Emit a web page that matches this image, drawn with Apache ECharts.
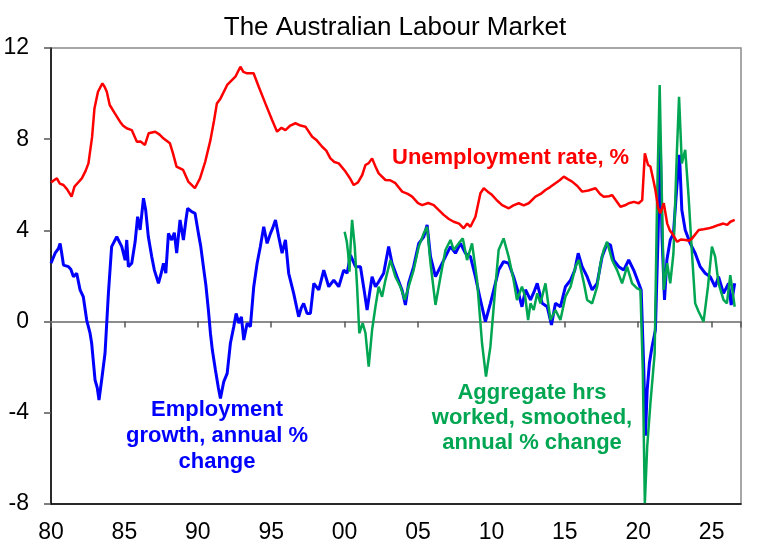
<!DOCTYPE html>
<html>
<head>
<meta charset="utf-8">
<title>The Australian Labour Market</title>
<script src="https://cdn.jsdelivr.net/npm/echarts@6/dist/echarts.min.js"></script>
<style>
  html, body { margin: 0; padding: 0; background: #fff; }
  #chart { width: 766px; height: 555px; }
</style>
</head>
<body>
<div id="chart"></div>
<script>
// values (decimal years)
const unempYears = [1980.0, 1980.2, 1980.4, 1980.6, 1980.85, 1981.1, 1981.4, 1981.6, 1981.85, 1982.1, 1982.35, 1982.55, 1982.8, 1982.96, 1983.2, 1983.5, 1983.65, 1983.8, 1984.0, 1984.35, 1984.7, 1984.9, 1985.15, 1985.5, 1985.85, 1986.1, 1986.4, 1986.65, 1987.1, 1987.4, 1987.65, 1988.1, 1988.3, 1988.55, 1989.0, 1989.35, 1989.8, 1990.15, 1990.5, 1990.86, 1991.1, 1991.3, 1991.55, 1992.0, 1992.56, 1992.9, 1993.1, 1993.36, 1993.8, 1994.15, 1994.6, 1995.06, 1995.4, 1995.7, 1995.97, 1996.3, 1996.65, 1997.0, 1997.33, 1997.79, 1998.1, 1998.47, 1998.75, 1999.03, 1999.3, 1999.6, 2000.06, 2000.35, 2000.62, 2000.9, 2001.2, 2001.42, 2001.64, 2001.87, 2002.1, 2002.32, 2002.78, 2003.1, 2003.46, 2003.92, 2004.3, 2004.6, 2005.0, 2005.28, 2005.7, 2006.07, 2006.4, 2006.75, 2007.1, 2007.43, 2007.8, 2008.11, 2008.35, 2008.57, 2008.91, 2009.25, 2009.48, 2009.75, 2010.05, 2010.4, 2010.73, 2011.18, 2011.5, 2011.86, 2012.2, 2012.54, 2013.0, 2013.35, 2013.68, 2014.0, 2014.36, 2014.65, 2014.93, 2015.2, 2015.5, 2015.85, 2016.18, 2016.6, 2017.09, 2017.4, 2017.65, 2018.0, 2018.22, 2018.5, 2018.79, 2019.1, 2019.35, 2019.7, 2020.03, 2020.27, 2020.45, 2020.67, 2020.83, 2021.0, 2021.17, 2021.35, 2021.5, 2021.74, 2021.97, 2022.15, 2022.31, 2022.65, 2022.9, 2023.22, 2023.45, 2023.67, 2024.12, 2024.45, 2024.8, 2025.1, 2025.48, 2025.8, 2026.06, 2026.28, 2026.57];
const unempRate = [6.1, 6.2, 6.28, 6.05, 5.99, 5.8, 5.48, 5.92, 6.1, 6.28, 6.6, 6.94, 8.1, 9.35, 10.08, 10.45, 10.3, 10.08, 9.5, 9.13, 8.77, 8.6, 8.48, 8.4, 7.89, 7.9, 7.75, 8.26, 8.33, 8.2, 8.04, 7.82, 7.4, 6.8, 6.65, 6.14, 5.85, 6.28, 7.0, 7.96, 8.8, 9.57, 9.79, 10.38, 10.74, 11.18, 10.95, 10.89, 10.89, 10.3, 9.57, 8.84, 8.33, 8.5, 8.4, 8.6, 8.7, 8.6, 8.55, 8.11, 7.95, 7.67, 7.5, 7.16, 7.0, 6.94, 6.58, 6.3, 5.99, 6.1, 6.43, 6.87, 6.95, 7.16, 6.8, 6.5, 6.21, 6.2, 6.07, 5.7, 5.6, 5.48, 5.2, 5.11, 5.2, 5.11, 4.9, 4.68, 4.5, 4.38, 4.3, 4.09, 4.3, 4.16, 4.6, 5.63, 5.85, 5.7, 5.55, 5.3, 5.11, 4.97, 5.1, 5.19, 5.1, 5.19, 5.48, 5.6, 5.77, 5.9, 6.07, 6.2, 6.36, 6.25, 6.14, 5.95, 5.7, 5.75, 5.85, 5.6, 5.48, 5.5, 5.55, 5.3, 5.04, 5.1, 5.19, 5.25, 5.19, 5.33, 7.38, 6.87, 6.8, 6.3, 5.77, 5.0, 4.75, 5.19, 4.31, 4.0, 3.87, 3.5, 3.6, 3.58, 3.55, 3.65, 4.02, 4.05, 4.09, 4.15, 4.24, 4.3, 4.24, 4.38, 4.46];

const empYears = [1980.0, 1980.28, 1980.5, 1980.62, 1980.73, 1980.85, 1981.19, 1981.35, 1981.53, 1981.75, 1981.98, 1982.2, 1982.43, 1982.66, 1982.77, 1983.0, 1983.15, 1983.27, 1983.45, 1983.68, 1983.91, 1984.13, 1984.48, 1984.82, 1985.05, 1985.16, 1985.27, 1985.5, 1985.73, 1985.9, 1986.07, 1986.3, 1986.45, 1986.63, 1986.86, 1987.04, 1987.32, 1987.5, 1987.66, 1987.82, 1988.0, 1988.22, 1988.4, 1988.56, 1988.79, 1989.02, 1989.2, 1989.31, 1989.58, 1989.81, 1990.04, 1990.2, 1990.38, 1990.55, 1990.72, 1990.86, 1990.99, 1991.2, 1991.4, 1991.54, 1991.77, 1992.0, 1992.22, 1992.45, 1992.61, 1992.79, 1992.97, 1993.13, 1993.36, 1993.58, 1993.81, 1994.04, 1994.26, 1994.49, 1994.72, 1994.95, 1995.1, 1995.29, 1995.51, 1995.74, 1995.97, 1996.19, 1996.53, 1996.87, 1997.05, 1997.21, 1997.44, 1997.67, 1997.9, 1998.24, 1998.58, 1998.92, 1999.26, 1999.6, 1999.94, 2000.17, 2000.4, 2000.74, 2001.08, 2001.3, 2001.53, 2001.64, 2001.87, 2002.1, 2002.32, 2002.66, 2003.0, 2003.23, 2003.57, 2003.91, 2004.14, 2004.36, 2004.7, 2005.05, 2005.39, 2005.62, 2005.85, 2006.19, 2006.53, 2006.87, 2007.21, 2007.55, 2007.89, 2008.23, 2008.57, 2008.91, 2009.25, 2009.59, 2009.93, 2010.16, 2010.49, 2010.83, 2011.17, 2011.51, 2011.85, 2012.08, 2012.32, 2012.66, 2012.9, 2013.12, 2013.46, 2013.8, 2014.09, 2014.36, 2014.7, 2015.04, 2015.39, 2015.68, 2015.91, 2016.18, 2016.52, 2016.86, 2017.2, 2017.54, 2017.88, 2018.11, 2018.33, 2018.67, 2019.01, 2019.35, 2019.69, 2020.03, 2020.2, 2020.38, 2020.49, 2020.61, 2020.76, 2020.94, 2021.17, 2021.35, 2021.5, 2021.62, 2021.79, 2021.95, 2022.18, 2022.4, 2022.63, 2022.81, 2022.97, 2023.2, 2023.54, 2023.88, 2024.22, 2024.56, 2024.9, 2025.24, 2025.47, 2025.81, 2026.15, 2026.33, 2026.57];
const empGrowth = [2.56, 3.0, 3.2, 3.43, 3.0, 2.48, 2.41, 2.3, 1.97, 2.12, 1.39, 1.09, 0.07, -0.51, -0.95, -2.56, -2.9, -3.44, -2.56, -1.39, 1.24, 3.29, 3.72, 3.29, 2.7, 3.58, 2.41, 2.56, 3.5, 4.6, 4.02, 5.41, 4.89, 3.72, 2.85, 2.26, 1.68, 2.1, 2.56, 2.12, 3.87, 3.58, 3.9, 3.0, 4.46, 3.58, 4.5, 4.97, 4.82, 4.75, 3.87, 3.3, 2.41, 1.6, 0.51, -0.51, -1.25, -2.12, -2.9, -3.37, -2.63, -2.27, -0.95, -0.22, 0.36, -0.07, 0.21, -0.81, -0.07, -0.22, 1.53, 2.56, 3.29, 4.16, 3.43, 3.87, 4.1, 4.46, 3.72, 3.0, 3.58, 2.12, 1.24, 0.21, 0.6, 0.8, 0.36, 0.36, 1.68, 1.39, 2.26, 1.53, 1.82, 1.53, 2.26, 2.12, 2.92, 2.41, 2.41, 1.5, 0.51, 0.44, 1.97, 1.53, 1.75, 2.12, 3.29, 2.56, 1.97, 1.39, 0.73, 1.68, 2.41, 3.43, 3.72, 4.24, 2.85, 1.97, 2.41, 2.85, 3.29, 3.0, 3.43, 3.0, 2.85, 1.97, 0.95, 0.0, 0.8, 1.39, 2.26, 2.63, 2.56, 1.97, 1.24, 0.65, 1.4, 0.95, 1.3, 1.68, 0.8, 0.65, -0.15, 0.8, 0.65, 1.53, 1.82, 2.26, 3.0, 2.41, 1.97, 1.39, 1.68, 2.85, 3.43, 3.36, 2.7, 2.41, 2.26, 2.7, 2.26, 1.68, 1.39, -2.12, -5.0, -3.0, -1.83, -1.1, -0.37, 3.72, 8.0, 3.72, 0.95, 2.7, 3.58, 3.87, 5.92, 7.31, 4.89, 4.02, 3.43, 3.0, 2.41, 2.12, 1.97, 1.53, 1.97, 1.24, 1.68, 0.73, 1.68];

const hrsYears = [2000.0, 2000.15, 2000.24, 2000.33, 2000.42, 2000.51, 2000.69, 2000.85, 2001.0, 2001.23, 2001.42, 2001.64, 2001.87, 2002.1, 2002.32, 2002.55, 2002.78, 2003.12, 2003.46, 2003.8, 2004.1, 2004.36, 2004.7, 2005.05, 2005.39, 2005.62, 2005.85, 2006.19, 2006.53, 2006.87, 2007.21, 2007.43, 2007.77, 2008.05, 2008.34, 2008.68, 2009.02, 2009.36, 2009.63, 2009.93, 2010.27, 2010.49, 2010.83, 2011.17, 2011.51, 2011.74, 2012.08, 2012.3, 2012.5, 2012.66, 2012.88, 2013.12, 2013.34, 2013.68, 2014.02, 2014.36, 2014.7, 2015.04, 2015.39, 2015.73, 2015.95, 2016.3, 2016.52, 2016.86, 2017.2, 2017.43, 2017.65, 2017.88, 2018.22, 2018.56, 2018.9, 2019.24, 2019.58, 2019.92, 2020.15, 2020.31, 2020.45, 2020.61, 2020.83, 2021.12, 2021.28, 2021.46, 2021.62, 2021.74, 2021.97, 2022.18, 2022.4, 2022.63, 2022.78, 2022.97, 2023.2, 2023.43, 2023.66, 2023.88, 2024.11, 2024.45, 2024.75, 2025.02, 2025.24, 2025.47, 2025.81, 2026.04, 2026.27, 2026.57];
const hrsGrowth = [3.94, 3.5, 3.0, 2.19, 3.5, 4.46, 3.29, 1.53, -0.51, -0.07, -0.5, -1.98, -0.37, 0.65, 1.53, 1.09, 1.82, 2.7, 1.97, 1.53, 0.95, 1.53, 2.26, 3.29, 3.87, 4.16, 2.56, 0.73, 1.97, 3.14, 3.58, 3.14, 3.43, 3.65, 2.7, 3.43, 1.82, -0.95, -2.41, -1.1, 1.53, 3.14, 3.65, 2.85, 1.82, 0.95, 1.53, 1.09, 0.07, 0.8, 0.51, 1.24, 0.8, 1.68, 0.07, 0.51, 0.07, 1.09, 1.53, 2.41, 2.7, 1.68, 0.95, 0.8, 1.53, 2.56, 3.14, 3.5, 2.7, 2.26, 1.68, 2.41, 1.68, 1.46, 1.39, -2.12, -7.97, -5.49, -3.58, -1.39, 5.19, 10.38, 5.19, 1.39, 2.56, 1.68, 3.0, 7.38, 9.86, 6.94, 7.53, 5.48, 3.0, 0.8, 0.44, 0.0, 1.53, 3.29, 2.85, 1.68, 0.95, 0.8, 2.04, 0.65];

const yTicks = { min: -8, max: 12, step: 4 };
const xTicks = { min: 1980, max: 2027, step: 5 };

const FONT = "'Liberation Sans', Arial, sans-serif";

function zip(xs, ys) {
  return xs.map((x, i) => [x, ys[i]]);
}

const chart = echarts.init(document.getElementById("chart"));

const option = {
  animation: false,
  backgroundColor: "#fff",
  grid: {
    left: 51,
    right: 25,
    top: 48,
    bottom: 51,
    show: true,
    borderColor: "#8a8a8a",
    borderWidth: 1.5,
    backgroundColor: "transparent",
  },
  xAxis: [
    {
      type: "value",
      min: xTicks.min,
      max: xTicks.max,
      interval: xTicks.step,
      position: "bottom",
      axisLine: { onZero: false, lineStyle: { color: "#000", width: 1.5 } },
      axisTick: { show: false },
      splitLine: { show: false },
      axisLabel: {
        margin: 17,
        color: "#000",
        fontFamily: FONT,
        fontSize: 23,
        showMaxLabel: false,
        formatter: (v) => String(v % 100).padStart(2, "0"),
      },
    },
    {
      // zero line with ticks pointing down
      type: "value",
      min: xTicks.min,
      max: xTicks.max,
      interval: xTicks.step,
      position: "bottom",
      axisLine: { onZero: true, lineStyle: { color: "#8c8c8c", width: 2 } },
      axisTick: { show: true, length: 6, lineStyle: { color: "#555", width: 1.5 } },
      splitLine: { show: false },
      axisLabel: { show: false },
    },
  ],
  yAxis: {
    type: "value",
    min: yTicks.min,
    max: yTicks.max,
    interval: yTicks.step,
    axisLine: { show: true, lineStyle: { color: "#000", width: 1.5 } },
    axisTick: { show: true, length: 7, lineStyle: { color: "#555", width: 1.5 } },
    splitLine: { show: false },
    axisLabel: {
      margin: 22,
      color: "#000",
      fontFamily: FONT,
      fontSize: 23,
    },
  },
  series: [
    {
      name: "Employment growth",
      type: "line",
      xAxisIndex: 0,
      data: zip(empYears, empGrowth),
      showSymbol: false,
      lineStyle: { color: "#0000ff", width: 3 },
      z: 2,
    },
    {
      name: "Aggregate hrs worked",
      type: "line",
      xAxisIndex: 0,
      data: zip(hrsYears, hrsGrowth),
      showSymbol: false,
      lineStyle: { color: "#00a651", width: 2.5 },
      z: 3,
    },
    {
      name: "Unemployment rate",
      type: "line",
      xAxisIndex: 0,
      data: zip(unempYears, unempRate),
      showSymbol: false,
      lineStyle: { color: "#ff0000", width: 2.5 },
      z: 4,
    },
  ],
  graphic: [
    {
      type: "text",
      style: {
        text: "The Australian Labour Market",
        x: 395,
        y: 28,
        align: "center",
        verticalAlign: "middle",
        fill: "#000",
        font: "26px " + FONT,
      },
    },
    {
      type: "text",
      style: {
        text: "Unemployment rate, %",
        x: 392,
        y: 158,
        align: "left",
        verticalAlign: "middle",
        fill: "#ff0000",
        font: "bold 22px " + FONT,
      },
    },
    {
      type: "text",
      style: {
        text: "Employment\ngrowth, annual %\nchange",
        x: 217,
        y: 436,
        align: "center",
        verticalAlign: "middle",
        lineHeight: 26,
        fill: "#0000ff",
        font: "bold 22px " + FONT,
      },
    },
    {
      type: "text",
      style: {
        text: "Aggregate hrs\nworked, smoothed,\nannual % change",
        x: 532,
        y: 418,
        align: "center",
        verticalAlign: "middle",
        lineHeight: 25,
        fill: "#00a651",
        font: "bold 22px " + FONT,
      },
    },
  ],
};

chart.setOption(option);
</script>
</body>
</html>
